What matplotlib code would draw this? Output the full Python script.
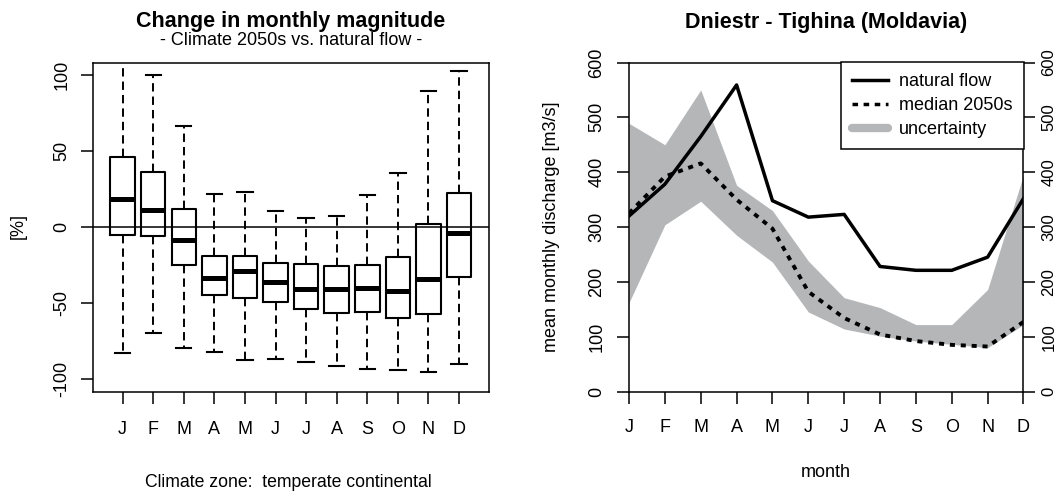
import numpy as np
import matplotlib
matplotlib.use("Agg")
import matplotlib.pyplot as plt
from matplotlib.lines import Line2D
from matplotlib.transforms import ScaledTranslation

plt.rcParams["font.family"] = ["Liberation Sans", "DejaVu Sans"]

# ── Data ───────────────────────────────────────────────────
months = ["J", "F", "M", "A", "M", "J", "J", "A", "S", "O", "N", "D"]

# change in monthly magnitude [%], climate 2050s vs. natural flow
chg_whislo = [-83.0, -69.4, -79.3, -82.1, -87.5, -86.8, -88.3, -91.3, -93.5, -93.7, -95.4, -90.0]
chg_q1     = [-5.2, -5.7, -24.9, -44.5, -46.2, -49.1, -53.5, -56.3, -55.5, -59.6, -56.8, -32.8]
chg_med    = [18.4, 11.5, -8.5, -33.5, -28.5, -36.0, -40.8, -40.3, -39.8, -42.2, -33.8, -3.8]
chg_q3     = [46.5, 36.7, 12.0, -18.8, -18.8, -23.4, -23.9, -25.6, -25.1, -19.3, 2.2, 22.5]
chg_whishi = [118.0, 100.0, 66.4, 21.8, 23.1, 10.9, 6.1, 7.6, 21.0, 35.4, 89.7, 103.0]

# Dniestr - Tighina, mean monthly discharge [m3/s]
q_natural = [320, 378, 465, 559, 348, 318, 323, 228, 221, 221, 245, 352]
q_median  = [325, 392, 416, 350, 297, 182, 134, 104, 92, 85, 82, 127]
q_low     = [162, 304, 347, 285, 236, 145, 114, 101, 92, 86, 80, 122]
q_high    = [489, 450, 550, 376, 330, 238, 171, 153, 122, 122, 186, 395]

# ── Figure geometry (pixels) ───────────────────────────────
W, H = 1059, 491
DPI = 100
GRAY = "#b4b6b8"
FRAME_LW = 1.1
TICK_LEN = 8.6
TICK_FS = 13


def px_axes(fig, x0, y0, x1, y1):
    return fig.add_axes([x0 / W, 1 - y1 / H, (x1 - x0) / W, (y1 - y0) / H])


def fx(x):
    return x / W


def fy(y):
    return 1 - y / H


def style_frame(ax):
    for s in ax.spines.values():
        s.set_linewidth(FRAME_LW)
        s.set_color("black")


# ── Left: boxplot of change ────────────────────────────────
def draw_change(fig):
    ax = px_axes(fig, 92.7, 62.5, 489, 391.5)
    x = np.arange(1, len(months) + 1)
    stats = []
    for i in range(len(months)):
        stats.append({"whislo": chg_whislo[i], "q1": chg_q1[i], "med": chg_med[i],
                      "q3": chg_q3[i], "whishi": chg_whishi[i], "fliers": []})
    ax.axhline(0, color="black", lw=FRAME_LW, zorder=1)
    ax.bxp(stats, positions=x, widths=0.8, capwidths=0.5, showfliers=False,
           boxprops=dict(color="black", lw=1.5),
           medianprops=dict(color="black", lw=3.6, solid_capstyle="butt"),
           whiskerprops=dict(color="black", lw=1.4, linestyle=(0, (4.3, 2.6))),
           capprops=dict(color="black", lw=1.5))
    ax.set_xlim(0.02, 12.98)
    ax.set_ylim(-108, 108.4)
    ax.set_xticks(x)
    ax.set_xticklabels(months, fontsize=TICK_FS)
    ax.set_yticks([-100, -50, 0, 50, 100])
    ax.set_yticklabels(["-100", "-50", "0", "50", "100"], fontsize=TICK_FS,
                       rotation=90, va="center")
    ax.tick_params(axis="x", direction="out", length=TICK_LEN, width=FRAME_LW, pad=12.5)
    ax.tick_params(axis="y", direction="out", length=TICK_LEN, width=FRAME_LW, pad=7.5)
    style_frame(ax)

    cx = (92.7 + 489) / 2
    fig.text(fx(cx), fy(26.7), "Change in monthly magnitude", ha="center",
             va="baseline", fontsize=15.5, fontweight="bold")
    fig.text(fx(cx), fy(45), "- Climate 2050s vs. natural flow -", ha="center",
             va="baseline", fontsize=13)
    fig.text(fx(18.6), fy(226), "[%]", rotation=90, ha="center", va="center",
             fontsize=13)
    fig.text(fx(288), fy(486.7), "Climate zone:  temperate continental",
             ha="center", va="baseline", fontsize=12.7)


# ── Right: discharge regime ────────────────────────────────
def draw_regime(fig):
    ax = px_axes(fig, 629, 62.5, 1023.5, 391.5)
    x = np.arange(1, len(months) + 1)
    ax.fill_between(x, q_low, q_high, color=GRAY, lw=0, zorder=1)
    ax.plot(x, q_natural, color="black", lw=2.5, zorder=3)
    ax.plot(x, q_median, color="black", lw=2.8, linestyle=(0, (1.3, 1.5)), zorder=3)
    ax.set_xlim(1, 12)
    ax.set_ylim(0, 600)
    ax.set_xticks(x)
    ax.set_xticklabels(months, fontsize=TICK_FS)
    ticks = np.arange(0, 700, 100)
    ax.set_yticks(ticks)
    ax.set_yticklabels([str(t) for t in ticks], fontsize=TICK_FS, rotation=90, va="center")
    ax.tick_params(axis="x", direction="out", length=TICK_LEN, width=FRAME_LW, pad=11.5)
    ax.tick_params(axis="y", direction="out", length=TICK_LEN, width=FRAME_LW, pad=8.4,
                   right=True, labelright=True)
    # mirrored axis on the right, labels nudged in to stay on the canvas
    shift = ScaledTranslation(-4 / 72, 0, fig.dpi_scale_trans)
    for t in ax.yaxis.get_major_ticks():
        t.label2.set_rotation(90)
        t.label2.set_va("center")
        t.label2.set_fontsize(12)
        t.label2.set_transform(t.label2.get_transform() + shift)
    style_frame(ax)

    handles = [
        Line2D([], [], color="black", lw=2.5),
        Line2D([], [], color="black", lw=2.5, linestyle=(0, (1.6, 1.6))),
        Line2D([], [], color=GRAY, lw=6, solid_capstyle="round"),
    ]
    leg = ax.legend(handles, ["natural flow", "median 2050s", "uncertainty"],
                    loc="upper right", borderaxespad=0, fancybox=False,
                    fontsize=13, handlelength=2.0, handletextpad=0.6,
                    labelspacing=0.38, borderpad=0.6, framealpha=1)
    leg.get_frame().set_edgecolor("black")
    leg.get_frame().set_linewidth(FRAME_LW)

    cx = (629 + 1023.5) / 2
    fig.text(fx(cx), fy(28.3), "Dniestr - Tighina (Moldavia)", ha="center",
             va="baseline", fontsize=15.5, fontweight="bold")
    fig.text(fx(552), fy(227), "mean monthly discharge [m3/s]", rotation=90,
             ha="center", va="center", fontsize=13)
    fig.text(fx(825.8), fy(476.7), "month", ha="center", va="baseline", fontsize=13)


def main():
    fig = plt.figure(figsize=(W / DPI, H / DPI), dpi=DPI)
    draw_change(fig)
    draw_regime(fig)
    fig.savefig("out.png", dpi=DPI, facecolor="white")
    plt.close(fig)


if __name__ == "__main__":
    main()
